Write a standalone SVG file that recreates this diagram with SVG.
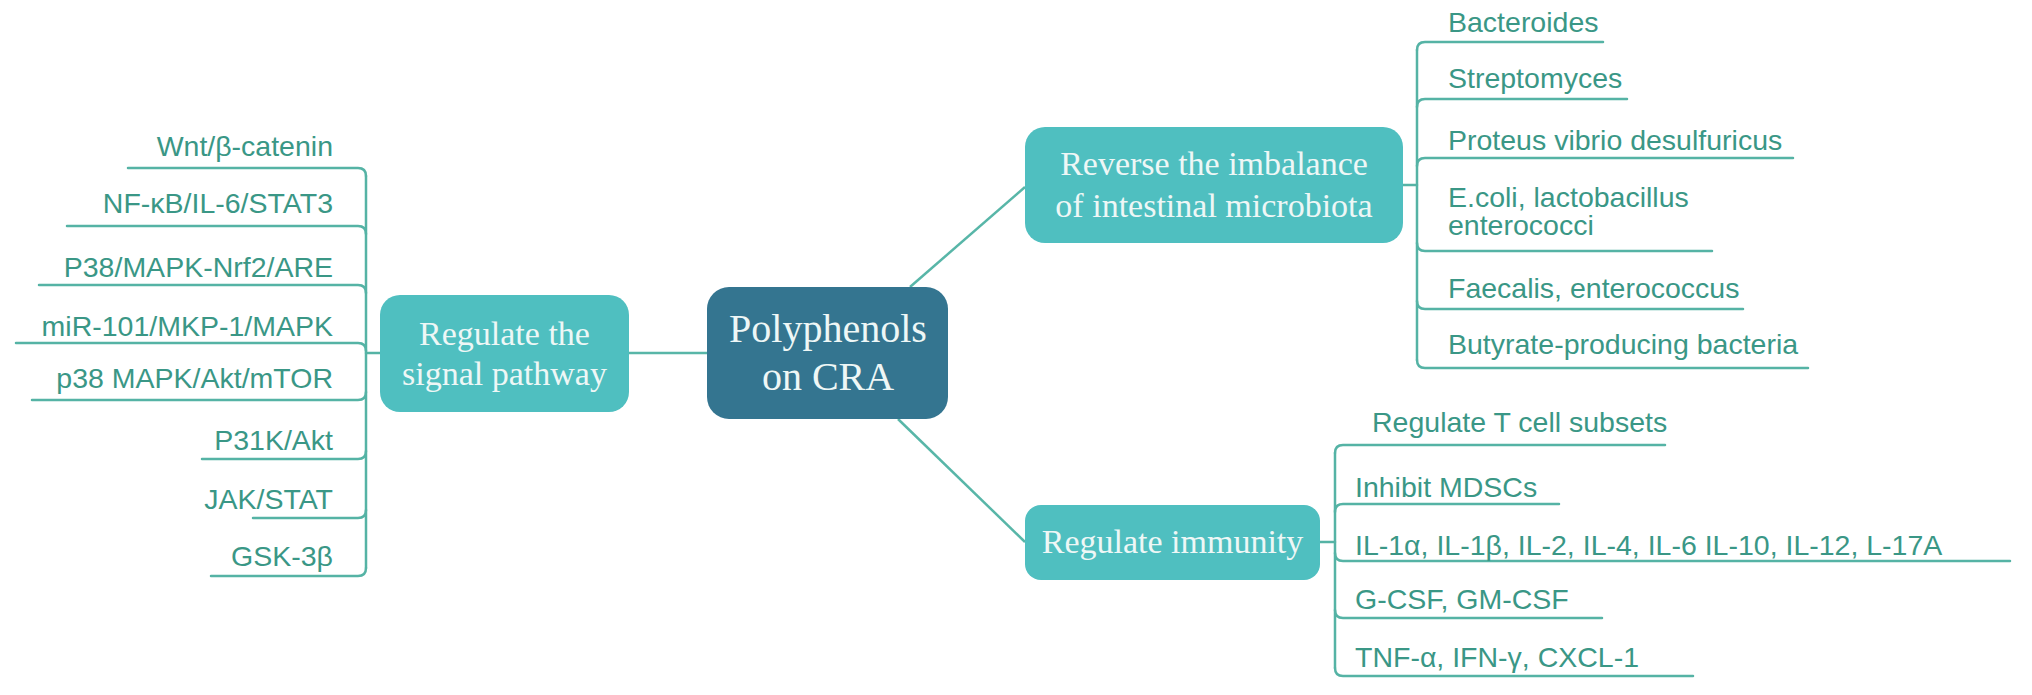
<svg xmlns="http://www.w3.org/2000/svg" width="2032" height="695" viewBox="0 0 2032 695">
<style>
.leaf{font-family:"Liberation Sans",Arial,sans-serif;font-size:28.5px;fill:#3a9786;}
.box2{fill:#4fbfc0;}
.box1{fill:#347590;}
.bt{font-family:"Liberation Serif","Times New Roman",serif;fill:#eef7f6;text-anchor:middle;}
.ln{fill:none;stroke:#55b3a5;stroke-width:2.5;stroke-linecap:round;}
.cn{fill:none;stroke:#58b6a8;stroke-width:2.5;}
</style>
<rect width="2032" height="695" fill="#ffffff"/>
<g id="connectors">
<path class="cn" d="M629,353 H707"/>
<path class="cn" d="M910,287 L1025,187"/>
<path class="cn" d="M898,419 L1025,542"/>
<!-- left bracket -->
<path class="ln" d="M366,353 H380"/>
<path class="ln" d="M366,176 V568"/>
<path class="ln" d="M128,168 H358 Q366,168 366,176"/>
<path class="ln" d="M67,226 H358 Q366,226 366,234"/>
<path class="ln" d="M39,285 H358 Q366,285 366,293"/>
<path class="ln" d="M16,343 H358 Q366,343 366,351"/>
<path class="ln" d="M32,400 H358 Q366,400 366,392"/>
<path class="ln" d="M202,459 H358 Q366,459 366,451"/>
<path class="ln" d="M253,518 H358 Q366,518 366,510"/>
<path class="ln" d="M211,576 H358 Q366,576 366,568"/>
<!-- microbiota bracket -->
<path class="ln" d="M1403,185 H1417"/>
<path class="ln" d="M1417,50 V360"/>
<path class="ln" d="M1417,50 Q1417,42 1425,42 H1603"/>
<path class="ln" d="M1417,107 Q1417,99 1425,99 H1627"/>
<path class="ln" d="M1417,166 Q1417,158 1425,158 H1793"/>
<path class="ln" d="M1417,243 Q1417,251 1425,251 H1712"/>
<path class="ln" d="M1417,301 Q1417,309 1425,309 H1743"/>
<path class="ln" d="M1417,360 Q1417,368 1425,368 H1808"/>
<!-- immunity bracket -->
<path class="ln" d="M1320,542 H1335"/>
<path class="ln" d="M1335,453 V668"/>
<path class="ln" d="M1335,453 Q1335,445 1343,445 H1665"/>
<path class="ln" d="M1335,512 Q1335,504 1343,504 H1559"/>
<path class="ln" d="M1335,553 Q1335,561 1343,561 H2010"/>
<path class="ln" d="M1335,610 Q1335,618 1343,618 H1602"/>
<path class="ln" d="M1335,668 Q1335,676 1343,676 H1693"/>
</g>
<g id="root">
<rect class="box1" x="707" y="287" width="241" height="132" rx="22"/>
<text class="bt" x="828" y="342" font-size="40">Polyphenols</text>
<text class="bt" x="828" y="390" font-size="40">on CRA</text>
</g>
<g id="signal">
<rect class="box2" x="380" y="295" width="249" height="117" rx="20"/>
<text class="bt" x="504.5" y="345" font-size="34">Regulate the</text>
<text class="bt" x="504.5" y="385" font-size="34">signal pathway</text>
</g>
<g id="microbiota">
<rect class="box2" x="1025" y="127" width="378" height="116" rx="20"/>
<text class="bt" x="1214" y="175" font-size="34">Reverse the imbalance</text>
<text class="bt" x="1214" y="217" font-size="34">of intestinal microbiota</text>
</g>
<g id="immunity">
<rect class="box2" x="1025" y="505" width="295" height="75" rx="16"/>
<text class="bt" x="1172.5" y="553" font-size="34">Regulate immunity</text>
</g>
<g id="signal-leaves" text-anchor="end">
<text class="leaf" x="333" y="156">Wnt/β-catenin</text>
<text class="leaf" x="333" y="213">NF-κB/IL-6/STAT3</text>
<text class="leaf" x="333" y="277">P38/MAPK-Nrf2/ARE</text>
<text class="leaf" x="333" y="336">miR-101/MKP-1/MAPK</text>
<text class="leaf" x="333" y="388">p38 MAPK/Akt/mTOR</text>
<text class="leaf" x="333" y="450">P31K/Akt</text>
<text class="leaf" x="333" y="509">JAK/STAT</text>
<text class="leaf" x="333" y="566">GSK-3β</text>
</g>
<g id="microbiota-leaves">
<text class="leaf" x="1448" y="32">Bacteroides</text>
<text class="leaf" x="1448" y="88">Streptomyces</text>
<text class="leaf" x="1448" y="150">Proteus vibrio desulfuricus</text>
<text class="leaf" x="1448" y="207">E.coli, lactobacillus</text>
<text class="leaf" x="1448" y="235">enterococci</text>
<text class="leaf" x="1448" y="298">Faecalis, enterococcus</text>
<text class="leaf" x="1448" y="354">Butyrate-producing bacteria</text>
</g>
<g id="immunity-leaves">
<text class="leaf" x="1372" y="432">Regulate T cell subsets</text>
<text class="leaf" x="1355" y="497">Inhibit MDSCs</text>
<text class="leaf" x="1355" y="555">IL-1α, IL-1β, IL-2, IL-4, IL-6 IL-10, IL-12, L-17A</text>
<text class="leaf" x="1355" y="609">G-CSF, GM-CSF</text>
<text class="leaf" x="1355" y="667">TNF-α, IFN-γ, CXCL-1</text>
</g>
</svg>
